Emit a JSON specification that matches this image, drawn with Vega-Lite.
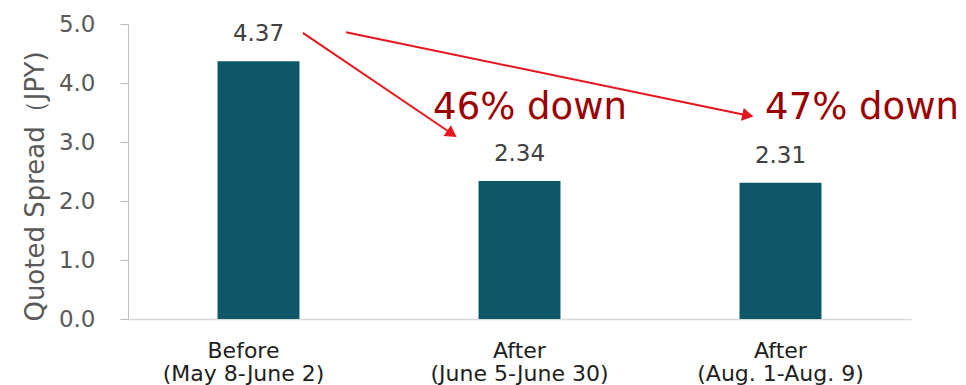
{
  "$schema": "https://vega.github.io/schema/vega-lite/v6.json",
  "width": 783,
  "height": 295,
  "autosize": {"type": "none"},
  "padding": {"left": 128, "top": 24, "right": 55, "bottom": 66},
  "config": {
    "view": {"stroke": null},
    "font": "DejaVu Sans",
    "background": "white"
  },
  "datasets": {
    "bars": [
      {"period": "Before|(May 8-June 2)", "spread": 4.37},
      {"period": "After|(June 5-June 30)", "spread": 2.34},
      {"period": "After|(Aug. 1-Aug. 9)", "spread": 2.31}
    ],
    "arrows": [
      {"id": "a1", "x": 0.670, "y": 4.85, "x2": 1.241, "y2": 3.14},
      {"id": "a2", "x": 0.835, "y": 4.86, "x2": 2.375, "y2": 3.45}
    ],
    "notes": [
      {"x": 1.169, "y": 3.58, "label": "46% down"},
      {"x": 2.441, "y": 3.58, "label": "47% down"}
    ]
  },
  "layer": [
    {
      "data": {"name": "bars"},
      "encoding": {
        "x": {
          "field": "period", "type": "nominal", "sort": null,
          "scale": {"paddingInner": 0.686, "paddingOuter": 0.343},
          "axis": {
            "title": null, "labelAngle": 0, "ticks": false,
            "domainColor": "#D9D9D9", "domainWidth": 1.5,
            "labelExpr": "split(datum.label, '|')",
            "labelFontSize": 22, "labelColor": "#1E1E1E",
            "labelLineHeight": 23, "labelPadding": 21,
            "labelOffset": {"condition": {"test": "datum.index == 0", "value": -15}, "value": 0},
            "labelFont": "DejaVu Sans"
          }
        },
        "y": {
          "field": "spread", "type": "quantitative",
          "scale": {"domain": [0, 5], "nice": false},
          "axis": {
            "title": "Quoted Spread（JPY)",
            "titleFontSize": 26, "titleFontWeight": "normal", "titleColor": "#595959",
            "titlePadding": 10, "titleY": 162,
            "values": [0, 1, 2, 3, 4, 5], "format": ".1f",
            "grid": false,
            "domainColor": "#BFBFBF", "tickColor": "#BFBFBF", "tickSize": 8,
            "labelFontSize": 23, "labelColor": "#595959", "labelPadding": 25,
            "labelFont": "DejaVu Sans", "titleFont": "DejaVu Sans"
          }
        }
      },
      "layer": [
        {"mark": {"type": "bar", "color": "#0D5769"}},
        {
          "mark": {"type": "text", "baseline": "bottom", "dy": -15, "fontSize": 23, "color": "#404040"},
          "encoding": {
            "text": {"field": "spread", "type": "quantitative", "format": ".2f"}
          }
        }
      ]
    },
    {
      "layer": [
        {
          "data": {"name": "arrows"},
          "mark": {"type": "rule", "color": "#E8141C", "strokeWidth": 2},
          "encoding": {
            "x": {"field": "x", "type": "quantitative", "scale": {"domain": [0, 3], "nice": false, "zero": false}, "axis": null},
            "y": {"field": "y", "type": "quantitative"},
            "x2": {"field": "x2"},
            "y2": {"field": "y2"}
          }
        },
        {
          "data": {"name": "arrows"},
          "transform": [{"filter": "datum.id == 'a1'"}],
          "mark": {"type": "point", "shape": "triangle-right", "filled": true, "color": "#E8141C", "size": 170, "angle": 34, "opacity": 1},
          "encoding": {
            "x": {"field": "x2", "type": "quantitative", "scale": {"domain": [0, 3], "nice": false, "zero": false}, "axis": null},
            "y": {"field": "y2", "type": "quantitative"}
          }
        },
        {
          "data": {"name": "arrows"},
          "transform": [{"filter": "datum.id == 'a2'"}],
          "mark": {"type": "point", "shape": "triangle-right", "filled": true, "color": "#E8141C", "size": 170, "angle": 12, "opacity": 1},
          "encoding": {
            "x": {"field": "x2", "type": "quantitative", "scale": {"domain": [0, 3], "nice": false, "zero": false}, "axis": null},
            "y": {"field": "y2", "type": "quantitative"}
          }
        },
        {
          "data": {"name": "notes"},
          "mark": {"type": "text", "align": "left", "baseline": "middle", "fontSize": 37, "color": "#9B0000"},
          "encoding": {
            "x": {"field": "x", "type": "quantitative", "scale": {"domain": [0, 3], "nice": false, "zero": false}, "axis": null},
            "y": {"field": "y", "type": "quantitative"},
            "text": {"field": "label"}
          }
        }
      ]
    }
  ],
  "resolve": {"scale": {"x": "independent"}}
}
